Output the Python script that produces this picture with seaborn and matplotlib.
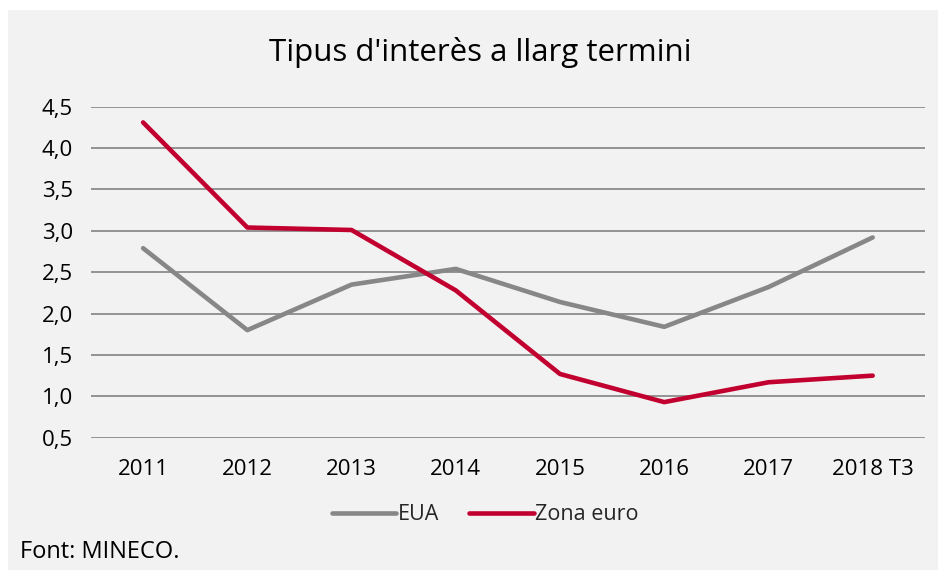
import pandas as pd
import matplotlib.pyplot as plt
import matplotlib.patches as mpatches
import seaborn as sns

years = ['2011', '2012', '2013', '2014', '2015', '2016', '2017', '2018 T3']
eua = [2.79, 1.80, 2.35, 2.54, 2.14, 1.84, 2.32, 2.92]
zona_euro = [4.31, 3.04, 3.01, 2.28, 1.27, 0.93, 1.17, 1.25]
y_ticks = [0.5, 1.0, 1.5, 2.0, 2.5, 3.0, 3.5, 4.0, 4.5]

df = pd.DataFrame({
    'any': years * 2,
    'valor': eua + zona_euro,
    'serie': ['EUA'] * len(years) + ['Zona euro'] * len(years),
})

sns.set_theme(style='white')
plt.rcParams['font.family'] = ['Open Sans', 'DejaVu Sans']

fig = plt.figure(figsize=(9.38, 5.7), dpi=100, facecolor='white')
fig.patches.append(mpatches.Rectangle((8 / 938, 0), 1, 560 / 570, transform=fig.transFigure,
                                      facecolor='#f2f2f2', edgecolor='none', zorder=-10))
ax = fig.add_axes([91 / 938, 132.3 / 570, 833.8 / 938, 331 / 570])
ax.set_facecolor('none')

palette = {'EUA': '#878787', 'Zona euro': '#c2002f'}
sns.lineplot(data=df, x='any', y='valor', hue='serie', palette=palette, sort=False,
             linewidth=3.3, solid_capstyle='round', ax=ax, zorder=3)

ax.set_xlim(-0.5, len(years) - 0.5)
ax.set_ylim(0.5, 4.5)
ax.set_yticks(y_ticks)
ax.set_yticklabels([f'{v:.1f}'.replace('.', ',') for v in y_ticks])
ax.yaxis.grid(True, color='#8c8c8c', linewidth=1.3)
ax.set_axisbelow(True)
for s in ax.spines.values():
    s.set_visible(False)
ax.tick_params(axis='both', length=0, labelsize=16, labelcolor='black')
ax.tick_params(axis='x', pad=15)
ax.tick_params(axis='y', pad=13)
ax.set_xlabel('')
ax.set_ylabel('')

fig.text(0.512, 0.908, "Tipus d'interès a llarg termini", ha='center', va='center',
         fontsize=22.5, color='black')

ax.legend(loc='center', bbox_to_anchor=(485 / 938, 55 / 570), bbox_transform=fig.transFigure,
          ncol=2, frameon=False, fontsize=15.5, handlelength=3.0, handletextpad=0.05,
          columnspacing=1.4)

fig.text(20 / 938, 18 / 570, 'Font: MINECO.', ha='left', va='center', fontsize=17, color='black')

fig.savefig('out.png', dpi=100, facecolor='white')
